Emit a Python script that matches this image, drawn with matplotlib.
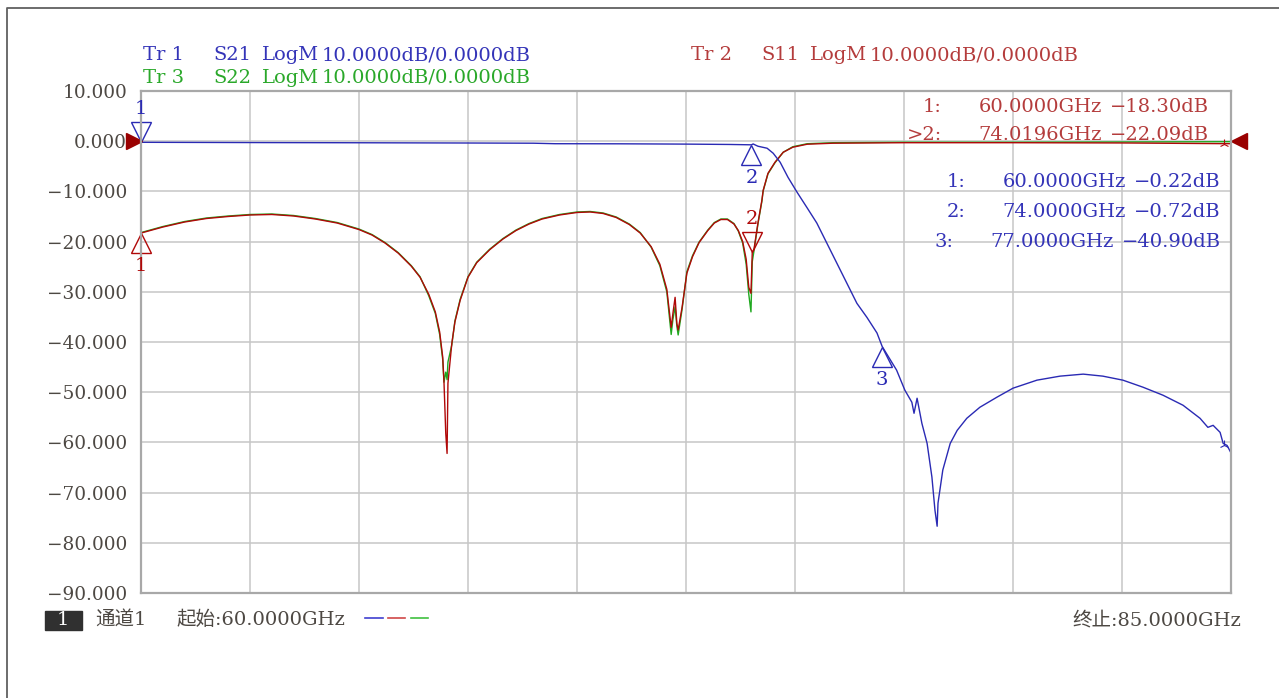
import matplotlib
matplotlib.use("Agg")
import matplotlib.pyplot as plt
from matplotlib.lines import Line2D
from matplotlib.patches import Rectangle
from matplotlib.transforms import offset_copy
from matplotlib.ticker import FuncFormatter
import numpy as np

# S21 trace (Tr 1)
freq_s21 = [60.00, 61.50, 63.00, 64.50, 66.00, 67.50, 69.00, 69.50, 71.00, 72.50,
            73.50, 74.00, 74.04, 74.15, 74.36, 74.50, 74.66, 74.84, 75.05, 75.28,
            75.50, 75.73, 75.96, 76.19, 76.42, 76.65, 76.88, 77.00, 77.33, 77.52,
            77.68, 77.73, 77.80, 77.91, 78.03, 78.14, 78.21, 78.26, 78.28, 78.39,
            78.56, 78.72, 78.94, 79.24, 79.63, 80.00, 80.55, 81.08, 81.61, 82.06,
            82.52, 82.98, 83.44, 83.90, 84.29, 84.47, 84.59, 84.75, 84.82, 84.91,
            85.00]
s21 = [-0.22, -0.25, -0.28, -0.30, -0.33, -0.36, -0.40, -0.50, -0.52, -0.58,
       -0.65, -0.72, -0.55, -1.0, -1.4, -2.4, -4.2, -7.2, -10.2, -13.3,
       -16.3, -20.3, -24.3, -28.3, -32.3, -35.1, -38.2, -40.9, -45.6, -49.6,
       -52.0, -54.2, -51.2, -56.2, -60.2, -66.9, -73.5, -76.7, -72.1, -65.5,
       -60.2, -57.6, -55.2, -53.0, -51.0, -49.2, -47.6, -46.8, -46.4, -46.8,
       -47.6, -49.0, -50.6, -52.6, -55.2, -57.0, -56.6, -58.0, -60.2, -60.6,
       -62.1]

# S11 (Tr 2) and S22 (Tr 3) traces
freq_s11 = [60.00, 60.50, 61.00, 61.50, 62.00, 62.50, 63.00, 63.50, 64.00, 64.50,
            65.00, 65.30, 65.60, 65.90, 66.20, 66.40, 66.60, 66.75, 66.85, 66.92,
            66.95, 66.99, 67.02, 67.04, 67.13, 67.20, 67.32, 67.50, 67.70, 68.00,
            68.30, 68.60, 68.90, 69.20, 69.60, 70.00, 70.30, 70.60, 70.90, 71.20,
            71.45, 71.70, 71.90, 72.06, 72.16, 72.20, 72.25, 72.29, 72.32, 72.41,
            72.52, 72.65, 72.80, 73.00, 73.15, 73.30, 73.45, 73.60, 73.70, 73.80,
            73.88, 73.94, 73.99, 74.02, 74.06, 74.15, 74.24, 74.27, 74.38, 74.54,
            74.73, 74.95, 75.28, 75.87, 77.50, 80.00, 82.50, 85.00]
s11 = [-18.3, -17.1, -16.1, -15.4, -15.0, -14.7, -14.6, -14.9, -15.5, -16.3,
       -17.6, -18.7, -20.3, -22.3, -24.9, -27.1, -30.5, -34.0, -38.0, -43.0,
       -48.2, -58.2, -62.2, -48.2, -40.2, -36.0, -31.7, -27.1, -24.2, -21.6,
       -19.5, -17.8, -16.5, -15.5, -14.7, -14.2, -14.1, -14.4, -15.2, -16.6,
       -18.3, -21.0, -24.5, -29.5, -37.1, -34.3, -31.1, -36.3, -37.6, -33.1,
       -26.3, -23.0, -20.2, -17.8, -16.3, -15.6, -15.6, -16.5, -17.8, -20.0,
       -23.5, -29.1, -30.3, -22.1, -21.5, -16.3, -11.8, -9.8, -6.4, -4.2,
       -2.2, -1.2, -0.6, -0.4, -0.3, -0.3, -0.35, -0.5]
s22 = [-18.2, -17.0, -16.0, -15.3, -14.9, -14.6, -14.5, -14.8, -15.4, -16.2,
       -17.5, -18.6, -20.2, -22.2, -24.8, -27.0, -30.8, -34.3, -38.5, -43.5,
       -48.0, -46.0, -47.5, -44.0, -40.5, -35.8, -31.5, -27.0, -24.1, -21.5,
       -19.4, -17.7, -16.4, -15.4, -14.6, -14.1, -14.0, -14.3, -15.1, -16.5,
       -18.2, -21.1, -24.8, -30.0, -38.5, -35.5, -33.0, -36.8, -38.6, -33.5,
       -26.0, -22.8, -20.1, -17.7, -16.2, -15.5, -15.5, -16.4, -17.9, -20.3,
       -24.5, -30.5, -34.0, -24.0, -21.8, -16.5, -12.0, -9.9, -6.5, -4.3,
       -2.2, -1.1, -0.5, -0.3, -0.2, -0.2, -0.15, -0.1]

# markers: number, frequency, value
s21_markers = [("1", 60.0, -0.22), ("2", 74.0, -0.72), ("3", 77.0, -40.90)]
s11_markers = [("1", 60.0, -18.30), ("2", 74.0196, -22.09)]

header_scale = "10.0000dB/0.0000dB"

BLUE = "#2a2ab4"
RED = "#b00808"
GREEN = "#1fa81f"
BLUE_T = "#3434b8"
RED_T = "#b43c3c"
GREEN_T = "#2aa82a"
GRAY_T = "#4d4843"
FS = 14
CW = 11.9  # width of one character cell in the readout, px

plt.rcParams['font.family'] = ['DejaVu Serif', 'Noto Sans CJK SC']
plt.rcParams['font.size'] = FS

W, H = 1279, 698
fig = plt.figure(figsize=(W / 100, H / 100), dpi=100)


def px(x, y):
    return x / W, 1 - y / H


def neg(s):
    return s.replace("-", "\u2212")


ax = fig.add_axes([141 / W, 1 - 593 / H, 1090 / W, 502 / H])
ax.set_xlim(60, 85)
ax.set_ylim(-90, 10)
ax.set_xticks(np.linspace(60, 85, 11))
ax.set_yticks(np.arange(-90, 11, 10))
ax.yaxis.set_major_formatter(FuncFormatter(lambda v, p: neg("%.3f" % v)))
ax.tick_params(axis='x', length=0, labelbottom=False)
ax.tick_params(axis='y', length=0, pad=10, colors=GRAY_T, labelsize=13.3)
ax.grid(True, color="#c6c6c6", lw=1.1)
ax.set_axisbelow(True)
for sp in ax.spines.values():
    sp.set_color("#a8a8a8")
    sp.set_linewidth(1.6)

ax.plot(freq_s11, s22, color=GREEN, lw=1.0)
ax.plot(freq_s11, s11, color=RED, lw=1.0)
ax.plot(freq_s21, s21, color=BLUE, lw=1.0)

# stimulus end indicators
ax.plot([84.85], [s11[-1]], marker='2', ms=7, color=RED, mew=0.8, clip_on=False)
ax.plot([84.85], [s21[-2]], marker='2', ms=7, color=BLUE, mew=0.8, clip_on=False)

# marker triangles and numbers
ms = 15


def marker(name, f, v, color, above):
    sign = 1 if above else -1
    tr = offset_copy(ax.transData, fig=fig, x=0, y=sign * ms / 2, units='points')
    ax.plot([f], [v], marker='v' if above else '^', ms=ms, mfc='none', mec=color,
            mew=1.0, transform=tr, clip_on=False)
    ax.annotate(name, (f, v), xytext=(0, sign * (ms + 9)), textcoords='offset points',
                ha='center', va='center', color=color, fontsize=FS)


marker(*s21_markers[0], BLUE, True)
marker(*s21_markers[1], BLUE, False)
marker(*s21_markers[2], BLUE, False)
marker(*s11_markers[0], RED, False)
marker(*s11_markers[1], RED, True)

# reference level arrows
trl = offset_copy(ax.transData, fig=fig, x=-5, y=0, units='points')
ax.plot([60], [0], marker='>', ms=11, color="#9a0000", transform=trl, clip_on=False)
trr = offset_copy(ax.transData, fig=fig, x=6, y=0, units='points')
ax.plot([85], [0], marker='<', ms=11, color="#9a0000", transform=trr, clip_on=False)

# trace headers
for x0, y, tr, par, col in [(143, 55, "Tr 1", "S21", BLUE_T),
                            (143, 78, "Tr 3", "S22", GREEN_T),
                            (691, 55, "Tr 2", "S11", RED_T)]:
    for dx, s in [(0, tr), (70, par), (119, "LogM"), (179, header_scale)]:
        fig.text(*px(x0 + dx, y), s, color=col, va='center', ha='left')


# marker readout tables (right aligned rows, like the analyzer's fixed-width text)
def readout(rows, right, ys, col):
    for (lab, f, v), y in zip(rows, ys):
        val = neg("%.2fdB" % v)
        f_right = right - (len(val) + 1) * CW
        fig.text(*px(f_right - 160, y), lab, color=col, va='center', ha='right')
        fig.text(*px(f_right, y), "%.4fGHz" % f, color=col, va='center', ha='right')
        fig.text(*px(right, y), val, color=col, va='center', ha='right')


readout([("1:", s11_markers[0][1], s11_markers[0][2]),
         (">2:", s11_markers[1][1], s11_markers[1][2])], 1209, [107, 135], RED_T)
readout([(n + ":", f, v) for n, f, v in s21_markers], 1221, [182, 212, 242], BLUE_T)

# footer
fig.add_artist(Rectangle(px(45, 630), 37 / W, 19 / H, transform=fig.transFigure,
                         fc="#303030", ec="#303030"))
fig.text(*px(63, 620), "1", color="white", ha='center', va='center')
fig.text(*px(95, 620), "通道1", color=GRAY_T, ha='left', va='center')
fig.text(*px(176, 620), "起始:60.0000GHz", color=GRAY_T, ha='left', va='center')
fig.text(*px(1241, 620), "终止:85.0000GHz", color=GRAY_T, ha='right', va='center')
for (x0, x1), c in zip([(365, 383), (388, 405), (411, 428)], ["#4040d0", "#d04848", "#40c040"]):
    fig.add_artist(Line2D([x0 / W, x1 / W], [1 - 618 / H] * 2, color=c, lw=1.2,
                          transform=fig.transFigure))

# outer frame
fig.add_artist(Line2D([7 / W, 7 / W, 1], [0, 1 - 8 / H, 1 - 8 / H], color="#606060",
                      lw=1.3, transform=fig.transFigure))

fig.savefig("out.png", dpi=100)
